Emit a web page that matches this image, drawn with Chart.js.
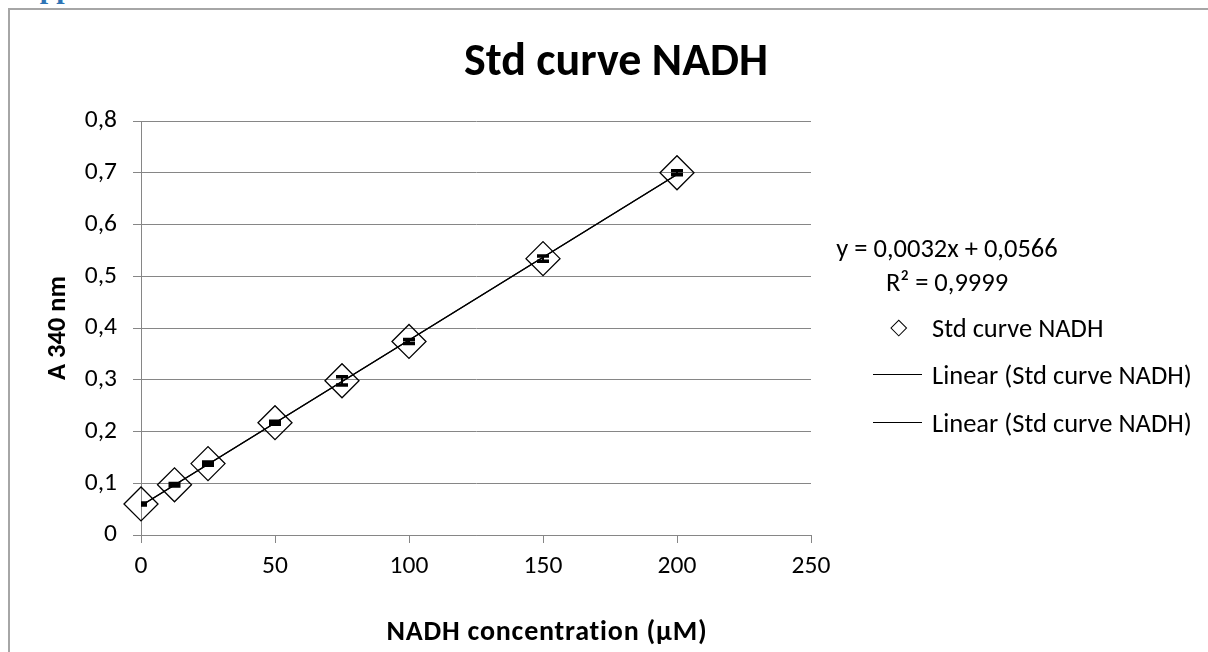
<!DOCTYPE html>
<html lang="en">
<head>
<meta charset="UTF-8">
<title>Std curve NADH</title>
<script src="https://cdn.jsdelivr.net/npm/chart.js"></script>
<style>
  body { margin: 0; background: #fff; font-family: Calibri, Carlito, Lato, sans-serif; color: #000; }
  #wrap { position: relative; width: 1208px; height: 652px; overflow: hidden; }
  #heading { position: absolute; left: 18px; top: -27px; font: bold 30px "Liberation Serif", serif; line-height: 30px; color: #2e74b5; white-space: nowrap; }
  #frame { position: absolute; left: 8px; top: 8px; width: 1400px; height: 900px; border-left: 2px solid #a6a6a6; border-top: 2px solid #a6a6a6; }
  canvas { position: absolute; left: 0; top: 0; }
  #title { position: absolute; left: 316px; top: 32px; width: 600px; text-align: center; font-weight: bold; font-size: 46px; line-height: 54px; }
  #xTitle { position: absolute; left: 247px; top: 616px; width: 600px; text-align: center; font-weight: bold; font-size: 28px; line-height: 30px; letter-spacing: 0.8px; }
  #equation { position: absolute; left: 797px; top: 231px; width: 300px; text-align: center; font-size: 26.5px; line-height: 34px; }
  #legend { position: absolute; left: 873px; top: 304px; font-size: 26.5px; }
  #legend .item { display: flex; align-items: center; height: 47.5px; white-space: nowrap; }
  #legend .sw { position: relative; width: 59px; height: 20px; flex: none; }
  #legend .diamond::after { content: ""; position: absolute; left: 20px; top: 4px; width: 9.5px; height: 9.5px; border: 1.3px solid #000; transform: rotate(45deg); }
  #legend .line::after { content: ""; position: absolute; left: 0; top: 9px; width: 49px; border-top: 1.4px solid #000; }
</style>
</head>
<body>
<div id="wrap">
  <div id="heading">Appendix</div>
  <div id="frame"></div>
  <canvas id="chart" width="1208" height="652"></canvas>
  <div id="title">Std curve NADH</div>
  <div id="xTitle">NADH concentration (µM)</div>
  <div id="equation"></div>
  <div id="legend"></div>
</div>
<script>
// NADH standard: concentration (µM) vs absorbance at 340 nm
const concentration = [0, 12.5, 25, 50, 75, 100, 150, 200];
const absorbance = [0.060, 0.097, 0.138, 0.217, 0.298, 0.374, 0.534, 0.700];
const absorbanceSd = [0.002, 0.0025, 0.003, 0.003, 0.008, 0.004, 0.005, 0.004];

// linear fit as reported by the spreadsheet
const trendSlope = 0.0032;
const trendIntercept = 0.0566;
const rSquared = 0.9999;

const xTickLabels = ['0', '50', '100', '150', '200', '250'];
const yTickLabels = ['0', '0,1', '0,2', '0,3', '0,4', '0,5', '0,6', '0,7', '0,8'];

const seriesName = 'Std curve NADH';
const trendName = 'Linear (Std curve NADH)';

const comma = v => String(v).replace('.', ',');

const fitX = [Math.min(...concentration), Math.max(...concentration)];
const fitPoints = fitX.map(x => ({ x: x, y: trendIntercept + trendSlope * x }));

// vertical error bars with thick caps, clipped to the plot area
const errorBars = {
  id: 'errorBars',
  afterDatasetsDraw(chart) {
    const { ctx, chartArea, scales } = chart;
    ctx.save();
    ctx.beginPath();
    ctx.rect(chartArea.left, chartArea.top, chartArea.right - chartArea.left, chartArea.bottom - chartArea.top);
    ctx.clip();
    ctx.strokeStyle = '#000';
    concentration.forEach((c, i) => {
      const px = scales.x.getPixelForValue(c);
      const hi = scales.y.getPixelForValue(absorbance[i] + absorbanceSd[i]);
      const lo = scales.y.getPixelForValue(absorbance[i] - absorbanceSd[i]);
      ctx.lineWidth = 2;
      ctx.beginPath();
      ctx.moveTo(px, hi);
      ctx.lineTo(px, lo);
      ctx.stroke();
      ctx.lineWidth = 3.5;
      ctx.beginPath();
      ctx.moveTo(px - 6, hi);
      ctx.lineTo(px + 6, hi);
      ctx.moveTo(px - 6, lo);
      ctx.lineTo(px + 6, lo);
      ctx.stroke();
    });
    ctx.restore();
  }
};

Chart.defaults.font.family = 'Calibri, Carlito, Lato, sans-serif';
Chart.defaults.color = '#000';

const chart = new Chart(document.getElementById('chart'), {
  type: 'scatter',
  data: {
    datasets: [
      {
        label: seriesName,
        data: concentration.map((x, i) => ({ x: x, y: absorbance[i] })),
        pointStyle: 'rectRot',
        pointRadius: 17,
        borderColor: '#000',
        backgroundColor: 'rgba(0,0,0,0)',
        borderWidth: 1.3,
        showLine: false,
        clip: false
      },
      {
        label: trendName,
        data: fitPoints,
        borderColor: '#000',
        borderWidth: 1.3,
        pointRadius: 0,
        showLine: true
      },
      {
        label: trendName,
        data: fitPoints,
        borderColor: '#000',
        borderWidth: 1.3,
        pointRadius: 0,
        showLine: true
      }
    ]
  },
  options: {
    responsive: false,
    animation: false,
    events: [],
    layout: { padding: { left: 9, top: 121, right: 397, bottom: 0 } },
    plugins: {
      legend: { display: false },
      tooltip: { enabled: false }
    },
    scales: {
      x: {
        type: 'linear',
        min: 0,
        max: 250,
        ticks: { stepSize: 50, padding: 8, font: { size: 25.5 }, callback: (v, i) => xTickLabels[i] },
        grid: { drawOnChartArea: false, tickLength: 8, color: '#868686' },
        border: { color: '#868686' },
        afterFit: s => { s.height = 117; }
      },
      y: {
        min: 0,
        max: 0.8,
        ticks: { stepSize: 0.1, padding: 16, font: { size: 25.5 }, callback: (v, i) => yTickLabels[i] },
        grid: { tickLength: 8, color: '#868686' },
        border: { color: '#868686' },
        title: { display: true, text: 'A 340 nm', font: { size: 26.5, weight: 'bold' }, padding: { top: 33.5 } },
        afterFit: s => { s.width = 132; }
      }
    }
  },
  plugins: [errorBars]
});

document.getElementById('equation').innerHTML =
  'y = ' + comma(trendSlope) + 'x + ' + comma(trendIntercept) + '<br>R² = ' + comma(rSquared);

// legend built from the chart's own datasets
const legendBox = document.getElementById('legend');
chart.data.datasets.forEach(ds => {
  const row = document.createElement('div');
  row.className = 'item';
  const sw = document.createElement('span');
  sw.className = 'sw ' + (ds.showLine ? 'line' : 'diamond');
  const txt = document.createElement('span');
  txt.textContent = ds.label;
  row.appendChild(sw);
  row.appendChild(txt);
  legendBox.appendChild(row);
});
</script>
</body>
</html>
